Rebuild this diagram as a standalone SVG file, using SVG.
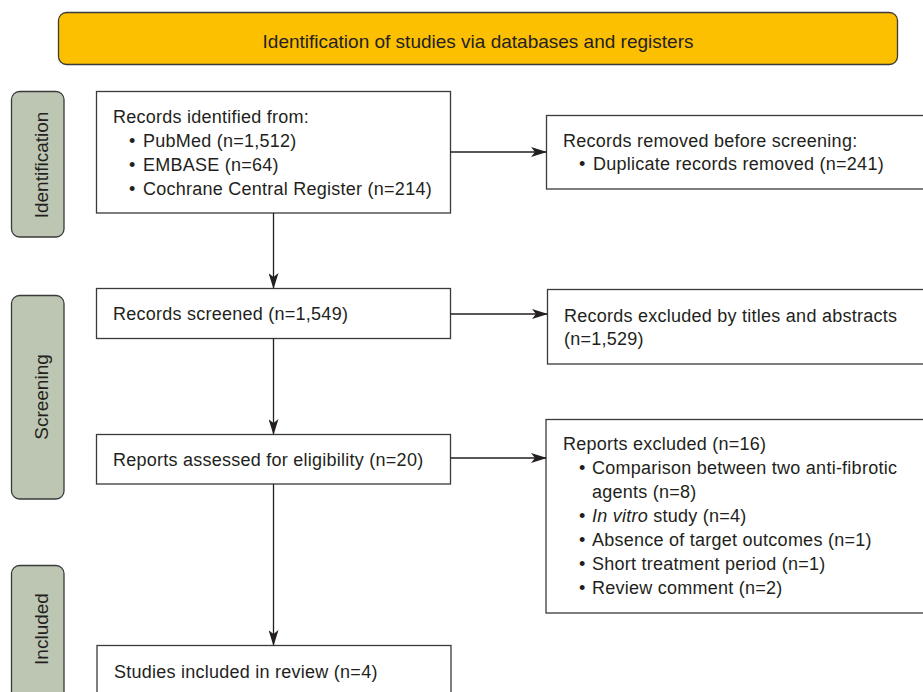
<svg xmlns="http://www.w3.org/2000/svg" width="923" height="692" viewBox="0 0 923 692">
<defs>
<style>
text{font-family:"Liberation Sans",Arial,Helvetica,sans-serif;fill:#231f20}
.t{font-size:18px;letter-spacing:0.25px}
.h{font-size:19px}
.side{font-size:19px;text-anchor:middle}
.box{fill:#fff;stroke:#3a3a3a;stroke-width:1.3}
.bar{fill:#bdc6b2;stroke:#3a3a3a;stroke-width:1.3}
.ban{fill:#fdc000;stroke:#3a3a3a;stroke-width:1.3}
.con{fill:none;stroke:#231f20;stroke-width:1.3;marker-end:url(#ah)}
</style>
<marker id="ah" viewBox="0 0 16 10" refX="15" refY="5" markerWidth="16" markerHeight="10" markerUnits="userSpaceOnUse" orient="auto">
<path d="M0,0 L16,5 L0,10 L4,5 Z" fill="#231f20"/>
</marker>
</defs>
<g id="banner">
<rect class="ban" x="58.5" y="12.5" width="839" height="52" rx="8"/>
<text class="h" x="478" y="48" text-anchor="middle">Identification of studies via databases and registers</text>
</g>
<g id="side-identification">
<rect class="bar" x="11.5" y="91.5" width="52.5" height="145.5" rx="8"/>
<text class="side" transform="translate(47.5,165) rotate(-90)">Identification</text>
</g>
<g id="side-screening">
<rect class="bar" x="11.5" y="295.5" width="52.5" height="203.5" rx="8"/>
<text class="side" transform="translate(47.5,397) rotate(-90)">Screening</text>
</g>
<g id="side-included">
<rect class="bar" x="11.5" y="565.5" width="52.5" height="140" rx="8"/>
<text class="side" transform="translate(47.5,629) rotate(-90)">Included</text>
</g>
<g id="records-identified">
<rect class="box" x="96.5" y="91.5" width="354" height="121.5"/>
<text class="t" x="113" y="123">Records identified from:</text>
<text class="t" x="129" y="147">•</text><text class="t" x="143" y="147">PubMed (n=1,512)</text>
<text class="t" x="129" y="171">•</text><text class="t" x="143" y="171">EMBASE (n=64)</text>
<text class="t" x="129" y="195">•</text><text class="t" x="143" y="195">Cochrane Central Register (n=214)</text>
</g>
<g id="records-removed">
<rect class="box" x="546.5" y="115.5" width="390" height="73.5"/>
<text class="t" x="563" y="147">Records removed before screening:</text>
<text class="t" x="579" y="170">•</text><text class="t" x="593" y="170">Duplicate records removed (n=241)</text>
</g>
<g id="records-screened">
<rect class="box" x="96.5" y="288.5" width="354" height="50"/>
<text class="t" x="113" y="320">Records screened (n=1,549)</text>
</g>
<g id="records-excluded">
<rect class="box" x="547.5" y="289.5" width="390" height="74.5"/>
<text class="t" x="564" y="322">Records excluded by titles and abstracts</text>
<text class="t" x="564" y="345">(n=1,529)</text>
</g>
<g id="reports-assessed">
<rect class="box" x="96.5" y="434.5" width="354" height="49.5"/>
<text class="t" x="113" y="466">Reports assessed for eligibility (n=20)</text>
</g>
<g id="reports-excluded">
<rect class="box" x="546" y="419.5" width="390" height="193.5"/>
<text class="t" x="563" y="450">Reports excluded (n=16)</text>
<text class="t" x="579" y="474">•</text><text class="t" x="592" y="474">Comparison between two anti-fibrotic</text>
<text class="t" x="592" y="498">agents (n=8)</text>
<text class="t" x="579" y="522">•</text><text class="t" x="592" y="522"><tspan font-style="italic">In vitro</tspan> study (n=4)</text>
<text class="t" x="579" y="546">•</text><text class="t" x="592" y="546">Absence of target outcomes (n=1)</text>
<text class="t" x="579" y="570">•</text><text class="t" x="592" y="570">Short treatment period (n=1)</text>
<text class="t" x="579" y="594">•</text><text class="t" x="592" y="594">Review comment (n=2)</text>
</g>
<g id="studies-included">
<rect class="box" x="97" y="645.5" width="354" height="60"/>
<text class="t" x="114" y="678">Studies included in review (n=4)</text>
</g>
<g id="connectors">
<line class="con" x1="273.5" y1="213" x2="273.5" y2="288"/>
<line class="con" x1="273.5" y1="338.5" x2="273.5" y2="434"/>
<line class="con" x1="273.5" y1="484" x2="273.5" y2="645"/>
<line class="con" x1="450.5" y1="152" x2="546" y2="152"/>
<line class="con" x1="450.5" y1="314" x2="547" y2="314"/>
<line class="con" x1="450.5" y1="458" x2="546" y2="458"/>
</g>
</svg>
